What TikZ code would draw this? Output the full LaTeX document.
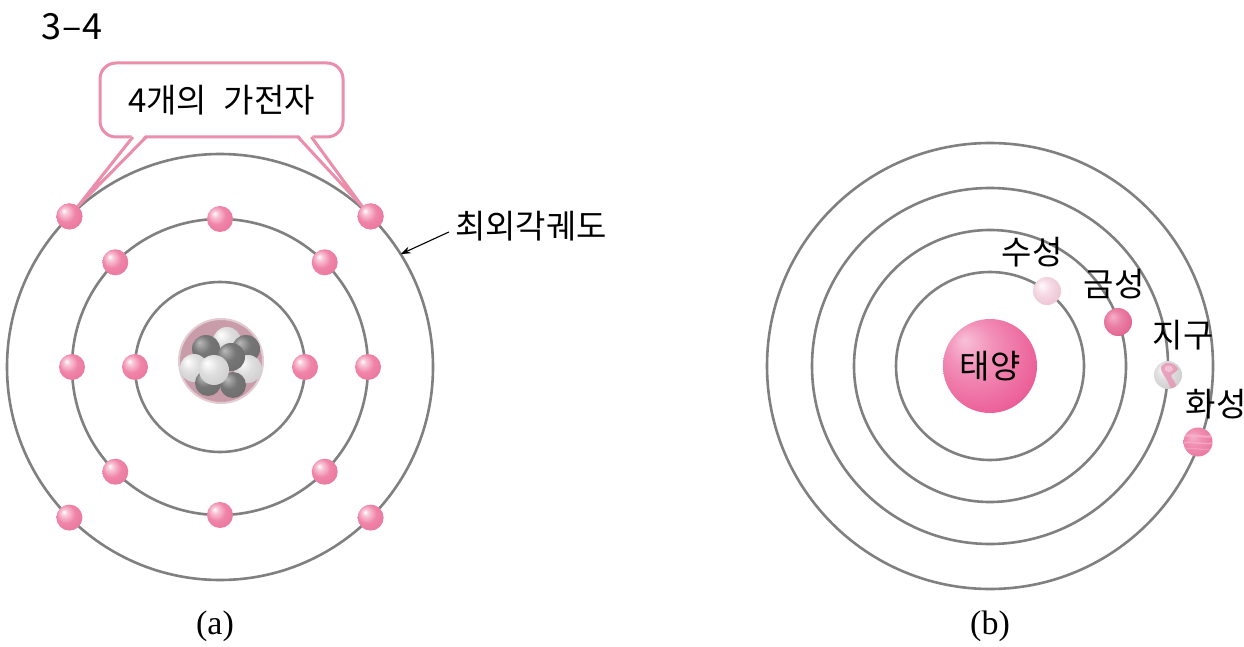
\documentclass[tikz,border=0pt]{standalone}
\usepackage{fontspec}
\setmainfont{Liberation Serif}
\newfontfamily\kofont{Noto Sans CJK KR}
\usetikzlibrary{arrows.meta,calc}

% palette
\definecolor{orbitgray}{RGB}{128,128,128}
\definecolor{callpink}{RGB}{234,142,172}
\definecolor{epink}{RGB}{240,132,168}
\definecolor{edark}{RGB}{214,86,132}
\definecolor{sunhi}{RGB}{248,192,216}
\definecolor{sunmid}{RGB}{236,98,154}
\definecolor{sunrim}{RGB}{212,46,120}
\definecolor{merhi}{RGB}{255,250,252}
\definecolor{mermid}{RGB}{238,196,212}
\definecolor{merrim}{RGB}{200,120,152}
\definecolor{venhi}{RGB}{246,176,200}
\definecolor{venmid}{RGB}{226,96,142}
\definecolor{venrim}{RGB}{176,52,100}
\definecolor{earhi}{RGB}{250,250,250}
\definecolor{earmid}{RGB}{205,205,205}
\definecolor{earrim}{RGB}{150,150,150}
\definecolor{landpink}{RGB}{232,150,182}
\definecolor{marhi}{RGB}{248,176,200}
\definecolor{marmid}{RGB}{234,118,160}
\definecolor{marrim}{RGB}{196,70,120}
\definecolor{marband}{RGB}{246,178,202}
\definecolor{nucdisc}{RGB}{200,156,168}
\definecolor{nucring}{RGB}{226,204,210}
\definecolor{gdhi}{RGB}{185,185,185}
\definecolor{gdmid}{RGB}{118,118,118}
\definecolor{gdrim}{RGB}{82,82,82}
\definecolor{glmid}{RGB}{222,222,222}
\definecolor{glrim}{RGB}{168,168,168}

% sphere shadings (highlight upper left)
\pgfdeclareradialshading{electronball}{\pgfqpoint{-11bp}{11bp}}{color(0bp)=(white); color(6bp)=(white!55!epink); color(18bp)=(epink); color(38bp)=(epink!60!edark); color(50bp)=(edark)}
\pgfdeclareradialshading{sunball}{\pgfqpoint{-14bp}{14bp}}{color(0bp)=(sunhi); color(12bp)=(sunhi!50!sunmid); color(30bp)=(sunmid); color(46bp)=(sunrim); color(50bp)=(sunrim!85!white)}
\pgfdeclareradialshading{mercuryball}{\pgfqpoint{-10bp}{10bp}}{color(0bp)=(merhi); color(14bp)=(mermid!60!merhi); color(30bp)=(mermid); color(50bp)=(merrim)}
\pgfdeclareradialshading{venusball}{\pgfqpoint{-10bp}{10bp}}{color(0bp)=(venhi); color(14bp)=(venhi!40!venmid); color(32bp)=(venmid); color(50bp)=(venrim)}
\pgfdeclareradialshading{earthball}{\pgfqpoint{-10bp}{10bp}}{color(0bp)=(earhi); color(14bp)=(earhi!40!earmid); color(32bp)=(earmid); color(50bp)=(earrim)}
\pgfdeclareradialshading{marsball}{\pgfqpoint{-10bp}{10bp}}{color(0bp)=(marhi); color(14bp)=(marhi!40!marmid); color(32bp)=(marmid); color(50bp)=(marrim)}
\pgfdeclareradialshading{darkgrayball}{\pgfqpoint{-12bp}{12bp}}{color(0bp)=(gdhi); color(16bp)=(gdmid); color(38bp)=(gdmid!70!gdrim); color(50bp)=(gdrim)}
\pgfdeclareradialshading{lightgrayball}{\pgfqpoint{-12bp}{12bp}}{color(0bp)=(white); color(16bp)=(glmid); color(38bp)=(glmid!60!glrim); color(50bp)=(glrim)}

\tikzset{
  orbit/.style={circle, draw=orbitgray, line width=2.6pt, minimum size=#1, inner sep=0pt, outer sep=0pt},
  electron/.style={circle, inner sep=0pt, minimum size=26pt, shading=electronball},
  planet/.style={circle, inner sep=0pt, minimum size=28pt},
  nucball/.style={circle, inner sep=0pt, minimum size=28pt},
  kotext/.style={font=\kofont\fontsize{33}{36}\selectfont, inner sep=0pt, text=black},
  captext/.style={font=\fontsize{34}{38}\selectfont, inner sep=0pt},
  tailline/.style={draw=callpink, line width=3pt, line join=round}
}

\begin{document}
\begin{tikzpicture}[x=1pt, y=-1pt]
\fill[white] (0,0) rectangle (1244,647);
\useasboundingbox (0,0) rectangle (1244,647);

% figure number
\node[font=\kofont\fontsize{36}{40}\selectfont, inner sep=0pt] (fignum) at (72,27) {3\kern1pt–\kern1pt4};

% ---------- (a) atom ----------
\coordinate (A) at (220,367);
\node[orbit=170pt] (orbA1) at (A) {};
\node[orbit=296pt] (orbA2) at (A) {};
\node[orbit=426pt] (orbA3) at (A) {};

% callout box with two tails
\node[draw=callpink, line width=3pt, fill=white, rounded corners=16pt,
      minimum width=243pt, minimum height=74pt, outer sep=0pt,
      font=\kofont\fontsize{33}{36}\selectfont] (callout) at (221.5,100)
      {4개의\hspace{0.5em}가전자};
\coordinate (tl1) at ($(callout.south west)!0.135!(callout.south east)$);
\coordinate (tl2) at ($(callout.south west)!0.19!(callout.south east)$);
\coordinate (tr1) at ($(callout.south west)!0.815!(callout.south east)$);
\coordinate (tr2) at ($(callout.south west)!0.87!(callout.south east)$);

% valence electrons (outer orbit)
\node[electron] (eTL) at (69.4,216.4) {};
\node[electron] (eTR) at (370.6,216.4) {};
\node[electron] (eBL) at (69.4,517.6) {};
\node[electron] (eBR) at (370.6,517.6) {};

\fill[white] ([yshift=3pt]tl1) -- (eTL.50) -- ([yshift=3pt]tl2) -- cycle;
\draw[tailline] (tl1) -- (eTL.50) -- (tl2);
\fill[white] ([yshift=3pt]tr1) -- (eTR.130) -- ([yshift=3pt]tr2) -- cycle;
\draw[tailline] (tr1) -- (eTR.130) -- (tr2);
% redraw outer electrons above the tails
\node[electron] at (eTL) {};
\node[electron] at (eTR) {};

% middle orbit electrons
\node[electron] (m1) at (220,219) {};
\node[electron] (m2) at (324.7,262.3) {};
\node[electron] (m3) at (368,367) {};
\node[electron] (m4) at (324.7,471.7) {};
\node[electron] (m5) at (220,515) {};
\node[electron] (m6) at (115.3,471.7) {};
\node[electron] (m7) at (72,367) {};
\node[electron] (m8) at (115.3,262.3) {};

% inner orbit electrons
\node[electron] (i1) at (135,367) {};
\node[electron] (i2) at (305,367) {};

% nucleus
\node[circle, fill=nucdisc, draw=nucring, line width=2pt, minimum size=84pt, inner sep=0pt] (nucleus) at (221,361) {};
\node[nucball, shading=lightgrayball] (n1) at (227,341) {};
\node[nucball, shading=darkgrayball]  (n2) at (246,349) {};
\node[nucball, shading=darkgrayball]  (n3) at (206,349) {};
\node[nucball, shading=lightgrayball] (n4) at (248,369) {};
\node[nucball, shading=lightgrayball] (n5) at (194,368) {};
\node[nucball, shading=darkgrayball, minimum size=26pt]  (n6) at (208,383) {};
\node[nucball, shading=darkgrayball, minimum size=26pt]  (n7) at (233,385) {};
\node[nucball, shading=darkgrayball]  (n8) at (231,357) {};
\node[nucball, shading=lightgrayball, minimum size=30pt] (n9) at (214,370) {};

% outermost orbit label
\node[kotext] (lblA) at (531,226) {최외각궤도};
\draw[line width=1.1pt, -{Stealth[length=10pt, width=7pt]}] ([shift={(-6pt,-6pt)}]lblA.west) -- (orbA3.32);

\node[captext] (capA) at (215,626) {(a)};

% ---------- (b) solar system ----------
\coordinate (B) at (990,366);
\node[orbit=188pt] (orbB1) at (B) {};
\node[orbit=272pt] (orbB2) at (B) {};
\node[orbit=356pt] (orbB3) at (B) {};
\node[orbit=446pt] (orbB4) at (B) {};

\node[circle, inner sep=0pt, minimum size=94pt, shading=sunball,
      font=\kofont\fontsize{33}{36}\selectfont] (sun) at (B) {태양};

\node[planet, shading=mercuryball] (mercury) at (1047,291) {};
\node[planet, shading=venusball]   (venus)   at (1118,322) {};
\node[planet, shading=earthball]   (earth)   at (1168,375) {};
\node[planet, shading=marsball, minimum size=29pt] (mars) at (1198,442) {};

% continents on the earth
\begin{scope}
  \clip (earth.center) circle[radius=14pt];
  \fill[landpink, opacity=0.85, shift={(earth.center)}] plot[smooth cycle] coordinates
    {(-2,-12) (5,-11) (10,-6) (6,-2) (3,1) (6,6) (8,11) (3,13) (0,7) (-3,2) (-6,-3) (-7,-8)};
  \fill[white, opacity=0.35, shift={(earth.center)}] plot[smooth cycle] coordinates
    {(-2,-9) (3,-9) (5,-5) (1,-3) (-3,-5)};
\end{scope}

% bands on mars
\begin{scope}
  \clip (mars.center) circle[radius=14.5pt];
  \draw[marband, opacity=0.8, line width=2pt, shift={(mars.center)}] (-16,-6) .. controls (-4,-8) and (4,-4) .. (16,-6);
  \draw[marband, opacity=0.7, line width=1.5pt, shift={(mars.center)}] (-16,1) .. controls (-4,-1) and (4,3) .. (16,1);
  \draw[marband, opacity=0.5, line width=1.3pt, shift={(mars.center)}] (-16,7) .. controls (-4,5) and (4,9) .. (16,7);
\end{scope}

\node[kotext] (lblMercury) at (1032,252) {수성};
\node[kotext] (lblVenus)   at (1114,284) {금성};
\node[kotext] (lblEarth)   at (1183,335) {지구};
\node[kotext] (lblMars)    at (1216,404) {화성};

\node[captext] (capB) at (990,626) {(b)};
\end{tikzpicture}
\end{document}
